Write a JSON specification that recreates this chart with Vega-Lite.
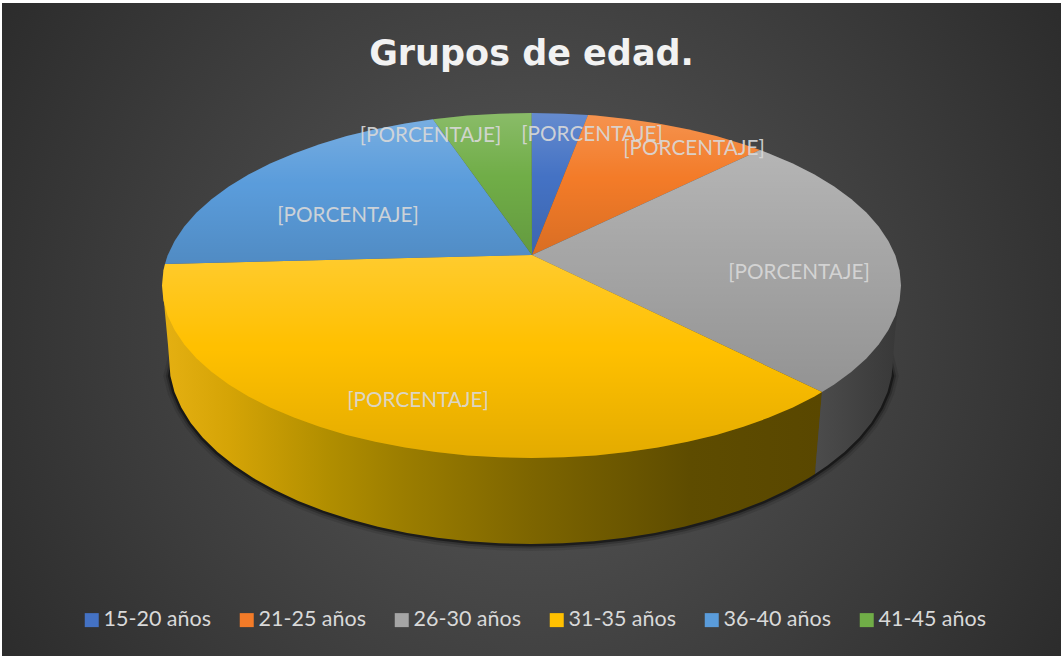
{
"$schema":"https://vega.github.io/schema/vega-lite/v6.json",
"width":1059,"height":653,
"autosize":{"type":"none"},
"padding":{"left":2,"top":3,"right":0,"bottom":0},
"background":"#ffffff",
"config":{"view":{"stroke":null}},
"title":{"text":"Grupos de edad.","font":"DejaVu Sans","fontSize":35,"fontWeight":"bold","color":"#f2f2f2","anchor":"middle","baseline":"alphabetic","offset":-97},
"datasets":{
"backdrop":[{"x":2,"x2":1061,"y":-199,"y2":860}],
"edge":[
{"n":0,"x":178,"y":345},
{"n":1,"x":170.4,"y":376},{"n":2,"x":174.5,"y":391.9},{"n":3,"x":181.3,"y":407.6},{"n":4,"x":190.8,"y":422.9},{"n":5,"x":202.9,"y":437.8},{"n":6,"x":217.5,"y":452},{"n":7,"x":234.5,"y":465.5},{"n":8,"x":253.7,"y":478.3},{"n":9,"x":275,"y":490.1},{"n":10,"x":298.3,"y":500.9},{"n":11,"x":323.4,"y":510.7},{"n":12,"x":350,"y":519.3},{"n":13,"x":378,"y":526.8},{"n":14,"x":407.2,"y":532.9},{"n":15,"x":437.3,"y":537.7},{"n":16,"x":468.2,"y":541.2},{"n":17,"x":499.4,"y":543.3},{"n":18,"x":531,"y":544},{"n":19,"x":562.6,"y":543.3},{"n":20,"x":593.8,"y":541.2},{"n":21,"x":624.7,"y":537.7},{"n":22,"x":654.8,"y":532.9},{"n":23,"x":684,"y":526.8},{"n":24,"x":712,"y":519.3},{"n":25,"x":738.6,"y":510.7},{"n":26,"x":763.7,"y":500.9},{"n":27,"x":787,"y":490.1},{"n":28,"x":808.3,"y":478.3},{"n":29,"x":827.5,"y":465.5},{"n":30,"x":844.5,"y":452},{"n":31,"x":859.1,"y":437.8},{"n":32,"x":871.2,"y":422.9},{"n":33,"x":880.7,"y":407.6},{"n":34,"x":887.5,"y":391.9},{"n":35,"x":891.6,"y":376},
{"n":36,"x":884,"y":345}
],
"sideYellow":[
{"n":1,"x":163,"y":290},{"n":2,"x":165,"y":313},{"n":3,"x":168,"y":345},{"n":4,"x":170.4,"y":376},{"n":5,"x":174.5,"y":391.9},{"n":6,"x":181.3,"y":407.6},{"n":7,"x":190.8,"y":422.9},{"n":8,"x":202.9,"y":437.8},{"n":9,"x":217.5,"y":452},{"n":10,"x":234.5,"y":465.5},{"n":11,"x":253.7,"y":478.3},{"n":12,"x":275,"y":490.1},{"n":13,"x":298.3,"y":500.9},{"n":14,"x":323.4,"y":510.7},{"n":15,"x":350,"y":519.3},{"n":16,"x":378,"y":526.8},{"n":17,"x":407.2,"y":532.9},{"n":18,"x":437.3,"y":537.7},{"n":19,"x":468.2,"y":541.2},{"n":20,"x":499.4,"y":543.3},{"n":21,"x":531,"y":544},{"n":22,"x":562.6,"y":543.3},{"n":23,"x":593.8,"y":541.2},{"n":24,"x":624.7,"y":537.7},{"n":25,"x":654.8,"y":532.9},{"n":26,"x":684,"y":526.8},{"n":27,"x":712,"y":519.3},{"n":28,"x":738.6,"y":510.7},{"n":29,"x":763.7,"y":500.9},{"n":30,"x":787,"y":490.1},{"n":31,"x":808.3,"y":478.3},{"n":32,"x":815,"y":474},{"n":33,"x":822,"y":392},{"n":34,"x":531,"y":290}
],
"sideGray":[
{"n":1,"x":822,"y":392},{"n":2,"x":815,"y":474},{"n":3,"x":827.5,"y":465.5},{"n":4,"x":844.5,"y":452},{"n":5,"x":859.1,"y":437.8},{"n":6,"x":871.2,"y":422.9},{"n":7,"x":880.7,"y":407.6},{"n":8,"x":887.5,"y":391.9},{"n":9,"x":891.6,"y":376},{"n":10,"x":893,"y":360},{"n":11,"x":895,"y":333},{"n":12,"x":899,"y":300}
],
"slices":[
{"grupo":"15-20 años","n":0,"x":532,"y":255},{"grupo":"15-20 años","n":1,"x":531.5,"y":113},{"grupo":"15-20 años","n":2,"x":563.7,"y":113.7},{"grupo":"15-20 años","n":3,"x":588,"y":115},
{"grupo":"21-25 años","n":0,"x":532,"y":255},{"grupo":"21-25 años","n":1,"x":588,"y":115},{"grupo":"21-25 años","n":2,"x":595.6,"y":115.6},{"grupo":"21-25 años","n":3,"x":627.1,"y":118.9},{"grupo":"21-25 años","n":4,"x":657.9,"y":123.4},{"grupo":"21-25 años","n":5,"x":687.7,"y":129.2},{"grupo":"21-25 años","n":6,"x":716.3,"y":136.1},{"grupo":"21-25 años","n":7,"x":743.4,"y":144.2},{"grupo":"21-25 años","n":8,"x":760,"y":150},
{"grupo":"26-30 años","n":0,"x":532,"y":255},{"grupo":"26-30 años","n":1,"x":760,"y":150},{"grupo":"26-30 años","n":2,"x":769,"y":153.4},{"grupo":"26-30 años","n":3,"x":792.8,"y":163.5},{"grupo":"26-30 años","n":4,"x":814.5,"y":174.6},{"grupo":"26-30 años","n":5,"x":834.2,"y":186.6},{"grupo":"26-30 años","n":6,"x":851.5,"y":199.2},{"grupo":"26-30 años","n":7,"x":866.4,"y":212.6},{"grupo":"26-30 años","n":8,"x":878.7,"y":226.5},{"grupo":"26-30 años","n":9,"x":888.4,"y":240.9},{"grupo":"26-30 años","n":10,"x":895.4,"y":255.6},{"grupo":"26-30 años","n":11,"x":899.6,"y":270.5},{"grupo":"26-30 años","n":12,"x":901,"y":285.5},{"grupo":"26-30 años","n":13,"x":899.6,"y":300.5},{"grupo":"26-30 años","n":14,"x":895.4,"y":315.4},{"grupo":"26-30 años","n":15,"x":888.4,"y":330.1},{"grupo":"26-30 años","n":16,"x":878.7,"y":344.5},{"grupo":"26-30 años","n":17,"x":866.4,"y":358.4},{"grupo":"26-30 años","n":18,"x":851.5,"y":371.8},{"grupo":"26-30 años","n":19,"x":834.2,"y":384.4},{"grupo":"26-30 años","n":20,"x":822,"y":392},
{"grupo":"31-35 años","n":0,"x":532,"y":255},{"grupo":"31-35 años","n":1,"x":822,"y":392},{"grupo":"31-35 años","n":2,"x":814.5,"y":396.4},{"grupo":"31-35 años","n":3,"x":792.8,"y":407.5},{"grupo":"31-35 años","n":4,"x":769,"y":417.6},{"grupo":"31-35 años","n":5,"x":743.4,"y":426.8},{"grupo":"31-35 años","n":6,"x":716.3,"y":434.9},{"grupo":"31-35 años","n":7,"x":687.7,"y":441.8},{"grupo":"31-35 años","n":8,"x":657.9,"y":447.6},{"grupo":"31-35 años","n":9,"x":627.1,"y":452.1},{"grupo":"31-35 años","n":10,"x":595.6,"y":455.4},{"grupo":"31-35 años","n":11,"x":563.7,"y":457.3},{"grupo":"31-35 años","n":12,"x":531.5,"y":458},{"grupo":"31-35 años","n":13,"x":499.3,"y":457.3},{"grupo":"31-35 años","n":14,"x":467.4,"y":455.4},{"grupo":"31-35 años","n":15,"x":435.9,"y":452.1},{"grupo":"31-35 años","n":16,"x":405.1,"y":447.6},{"grupo":"31-35 años","n":17,"x":375.3,"y":441.8},{"grupo":"31-35 años","n":18,"x":346.7,"y":434.9},{"grupo":"31-35 años","n":19,"x":319.6,"y":426.8},{"grupo":"31-35 años","n":20,"x":294,"y":417.6},{"grupo":"31-35 años","n":21,"x":270.2,"y":407.5},{"grupo":"31-35 años","n":22,"x":248.5,"y":396.4},{"grupo":"31-35 años","n":23,"x":228.8,"y":384.4},{"grupo":"31-35 años","n":24,"x":211.5,"y":371.8},{"grupo":"31-35 años","n":25,"x":196.6,"y":358.4},{"grupo":"31-35 años","n":26,"x":184.3,"y":344.5},{"grupo":"31-35 años","n":27,"x":174.6,"y":330.1},{"grupo":"31-35 años","n":28,"x":167.6,"y":315.4},{"grupo":"31-35 años","n":29,"x":163.4,"y":300.5},{"grupo":"31-35 años","n":30,"x":162,"y":285.5},{"grupo":"31-35 años","n":31,"x":163.4,"y":270.5},{"grupo":"31-35 años","n":32,"x":165,"y":264},
{"grupo":"36-40 años","n":0,"x":532,"y":255},{"grupo":"36-40 años","n":1,"x":165,"y":264},{"grupo":"36-40 años","n":2,"x":167.6,"y":255.6},{"grupo":"36-40 años","n":3,"x":174.6,"y":240.9},{"grupo":"36-40 años","n":4,"x":184.3,"y":226.5},{"grupo":"36-40 años","n":5,"x":196.6,"y":212.6},{"grupo":"36-40 años","n":6,"x":211.5,"y":199.2},{"grupo":"36-40 años","n":7,"x":228.8,"y":186.6},{"grupo":"36-40 años","n":8,"x":248.5,"y":174.6},{"grupo":"36-40 años","n":9,"x":270.2,"y":163.5},{"grupo":"36-40 años","n":10,"x":294,"y":153.4},{"grupo":"36-40 años","n":11,"x":319.6,"y":144.2},{"grupo":"36-40 años","n":12,"x":346.7,"y":136.1},{"grupo":"36-40 años","n":13,"x":375.3,"y":129.2},{"grupo":"36-40 años","n":14,"x":405.1,"y":123.4},{"grupo":"36-40 años","n":15,"x":433,"y":119.3},
{"grupo":"41-45 años","n":0,"x":532,"y":255},{"grupo":"41-45 años","n":1,"x":433,"y":119.3},{"grupo":"41-45 años","n":2,"x":467.4,"y":115.6},{"grupo":"41-45 años","n":3,"x":499.3,"y":113.7},{"grupo":"41-45 años","n":4,"x":531.5,"y":113}
],
"etiquetas":[
{"x":430.5,"y":136,"texto":"[PORCENTAJE]"},{"x":592,"y":135,"texto":"[PORCENTAJE]"},{"x":694,"y":149,"texto":"[PORCENTAJE]"},{"x":799,"y":273,"texto":"[PORCENTAJE]"},{"x":418,"y":401,"texto":"[PORCENTAJE]"},{"x":348,"y":216,"texto":"[PORCENTAJE]"}
]
},
"data":{"name":"slices"},
"encoding":{
"x":{"field":"x","type":"quantitative","axis":null,"scale":{"domain":[2,1061],"nice":false,"zero":false}},
"y":{"field":"y","type":"quantitative","axis":null,"scale":{"domain":[656,3],"nice":false,"zero":false}}
},
"layer":[
{"data":{"name":"backdrop"},"mark":{"type":"rect","clip":true,"fill":{"gradient":"radial","x1":0.5,"y1":0.5,"r1":0,"x2":0.5,"y2":0.5,"r2":0.6,"stops":[{"offset":0,"color":"#5a5a5a"},{"offset":1,"color":"#2b2b2b"}]}},"encoding":{"x2":{"field":"x2"},"y2":{"field":"y2"}}},
{"data":{"name":"edge"},"mark":{"type":"line","stroke":"#000000","strokeWidth":14,"opacity":0.1},"encoding":{"order":{"field":"n"}}},
{"data":{"name":"edge"},"mark":{"type":"line","stroke":"#000000","strokeWidth":9,"opacity":0.2},"encoding":{"order":{"field":"n"}}},
{"data":{"name":"edge"},"mark":{"type":"line","stroke":"#000000","strokeWidth":5,"opacity":0.45},"encoding":{"order":{"field":"n"}}},
{"data":{"name":"sideYellow"},"mark":{"type":"line","filled":true,"strokeWidth":0,"color":{"gradient":"linear","x1":0,"y1":0,"x2":1,"y2":0,"stops":[{"offset":0,"color":"#e5b012"},{"offset":0.1,"color":"#d5a406"},{"offset":0.25,"color":"#b18e00"},{"offset":0.36,"color":"#9c7e00"},{"offset":0.56,"color":"#7d6500"},{"offset":0.8,"color":"#5e4c00"},{"offset":1,"color":"#594700"}]}},"encoding":{"order":{"field":"n"}}},
{"data":{"name":"sideGray"},"mark":{"type":"line","filled":true,"strokeWidth":0,"color":{"gradient":"linear","x1":0,"y1":0,"x2":1,"y2":0,"stops":[{"offset":0,"color":"#4c4c4c"},{"offset":1,"color":"#383838"}]}},"encoding":{"order":{"field":"n"}}},
{"mark":{"type":"line","filled":true,"strokeWidth":0},"encoding":{"order":{"field":"n"},"color":{"field":"grupo","type":"nominal","scale":{"domain":["15-20 años","21-25 años","26-30 años","31-35 años","36-40 años","41-45 años"],"range":["#4472c4","#f37b28","#a5a5a5","#ffc000","#5a9cdb","#70ad47"]},"legend":{"title":null,"orient":"none","legendX":79,"legendY":606,"direction":"horizontal","columns":6,"symbolType":"square","symbolSize":196,"symbolStrokeWidth":0,"labelFont":"Lato","labelFontSize":21.5,"labelColor":"#d9d9d9","labelOffset":1,"columnPadding":24,"padding":0,"labelLimit":200}}}},
{"mark":{"type":"line","filled":true,"strokeWidth":0,"color":{"gradient":"linear","x1":0,"y1":0,"x2":0,"y2":1,"stops":[{"offset":0,"color":"rgba(255,255,255,0.18)"},{"offset":0.45,"color":"rgba(255,255,255,0)"},{"offset":0.46,"color":"rgba(0,0,0,0)"},{"offset":1,"color":"rgba(0,0,0,0.11)"}]}},"encoding":{"order":{"field":"n"},"detail":{"field":"grupo"}}},
{"data":{"name":"etiquetas"},"mark":{"type":"text","font":"Lato","fontSize":20.7,"fill":"#d9d9d9","opacity":0.9,"align":"center","baseline":"middle"},"encoding":{"text":{"field":"texto","type":"nominal"}}}
]
}
